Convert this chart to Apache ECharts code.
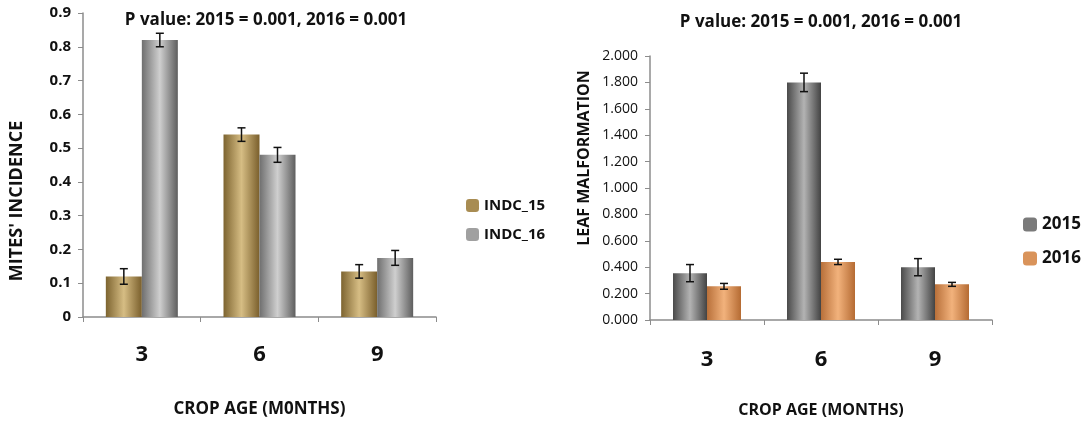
<!DOCTYPE html>
<html>
<head>
<meta charset="utf-8">
<script src="https://cdn.jsdelivr.net/npm/echarts@6/dist/echarts.min.js"></script>
<style>
  html, body { margin: 0; padding: 0; background: #fff; }
  #chart { width: 1084px; height: 423px; }
</style>
</head>
<body>
<div id="chart"></div>
<script>
// categories (crop age, months)
var ages = ['3', '6', '9']

// left panel: mites' incidence
var indc15 = [0.12, 0.54, 0.135]
var indc16 = [0.82, 0.48, 0.175]
var indc15Err = [0.023, 0.02, 0.02]
var indc16Err = [0.02, 0.022, 0.022]

// right panel: leaf malformation
var leaf2015 = [0.355, 1.80, 0.40]
var leaf2016 = [0.255, 0.44, 0.27]
var leaf2015Err = [0.065, 0.07, 0.065]
var leaf2016Err = [0.022, 0.02, 0.015]

var pTitle = 'P value: 2015 = 0.001, 2016 = 0.001'
var font = '"Open Sans", "Noto Sans", sans-serif'

function barGrad(c0, c1, c2) {
  return new echarts.graphic.LinearGradient(0, 0, 1, 0, [
    { offset: 0, color: c0 },
    { offset: 0.5, color: c1 },
    { offset: 1, color: c2 }
  ])
}

var tanColor = barGrad('#7d6430', '#d6bd84', '#7a5f2c')
var grayLight = barGrad('#6f6f6f', '#cfcfcf', '#5e5e5e')
var grayDark = barGrad('#4a4a4a', '#b3b3b3', '#434343')
var orangeColor = barGrad('#b8703a', '#f2b27c', '#b56b33')

// error bar series: offset = horizontal shift from category centre
function errSeries(xIdx, yIdx, vals, errs, offset) {
  return {
    type: 'custom',
    xAxisIndex: xIdx,
    yAxisIndex: yIdx,
    silent: true,
    z: 10,
    data: vals.map(function (v, i) { return [i, v - errs[i], v + errs[i]] }),
    renderItem: function (params, api) {
      var lo = api.coord([api.value(0), api.value(1)])
      var hi = api.coord([api.value(0), api.value(2)])
      var x = lo[0] + offset
      var cap = 4
      var style = { stroke: '#111', lineWidth: 1.5 }
      return {
        type: 'group',
        children: [
          { type: 'line', shape: { x1: x, y1: lo[1], x2: x, y2: hi[1] }, style: style },
          { type: 'line', shape: { x1: x - cap, y1: lo[1], x2: x + cap, y2: lo[1] }, style: style },
          { type: 'line', shape: { x1: x - cap, y1: hi[1], x2: x + cap, y2: hi[1] }, style: style }
        ]
      }
    }
  }
}

var chart = echarts.init(document.getElementById('chart'))

var axisLine = { show: true, lineStyle: { color: '#8c8c8c', width: 1.5 } }
var axisTick = { show: true, length: 5, lineStyle: { color: '#8c8c8c' } }

chart.setOption({
  animation: false,
  textStyle: { fontFamily: font },
  title: [
    {
      text: pTitle,
      left: 261,
      top: 7,
      textAlign: 'center',
      textStyle: { fontSize: 17, fontWeight: 'bold', color: '#111', fontFamily: font }
    },
    {
      text: pTitle,
      left: 816,
      top: 9,
      textAlign: 'center',
      textStyle: { fontSize: 17, fontWeight: 'bold', color: '#111', fontFamily: font }
    }
  ],
  legend: [
    {
      orient: 'vertical',
      left: 461,
      top: 193,
      itemWidth: 13,
      itemHeight: 13,
      itemGap: 14,
      textStyle: { fontSize: 15, fontWeight: 'bold', color: '#111', fontFamily: font },
      data: [
        { name: 'INDC_15', itemStyle: { color: '#a88c52' } },
        { name: 'INDC_16', itemStyle: { color: '#a0a0a0' } }
      ]
    },
    {
      orient: 'vertical',
      left: 1018,
      top: 211,
      itemWidth: 14,
      itemHeight: 14,
      itemGap: 17,
      textStyle: { fontSize: 17, fontWeight: 'bold', color: '#111', fontFamily: font },
      data: [
        { name: '2015', itemStyle: { color: '#7a7a7a' } },
        { name: '2016', itemStyle: { color: '#d9935a' } }
      ]
    }
  ],
  grid: [
    { left: 83, top: 13, width: 353, height: 311 },
    { left: 650, top: 56, width: 342, height: 272 }
  ],
  graphic: [
    {
      type: 'text',
      x: 17,
      y: 201,
      rotation: Math.PI / 2,
      style: {
        text: "MITES' INCIDENCE",
        fontSize: 18,
        fontWeight: 'bold',
        fontFamily: font,
        fill: '#111',
        align: 'center',
        verticalAlign: 'middle'
      }
    },
    {
      type: 'text',
      x: 584,
      y: 158,
      rotation: Math.PI / 2,
      style: {
        text: 'LEAF MALFORMATION',
        fontSize: 16,
        fontWeight: 'bold',
        fontFamily: font,
        fill: '#111',
        align: 'center',
        verticalAlign: 'middle'
      }
    }
  ],
  xAxis: [
    {
      type: 'category',
      gridIndex: 0,
      data: ages,
      axisLine: axisLine,
      axisTick: axisTick,
      axisLabel: { margin: 27, fontSize: 22, fontWeight: 'bold', color: '#111', fontFamily: font },
      name: 'CROP AGE (M0NTHS)',
      nameLocation: 'middle',
      nameGap: 84,
      nameTextStyle: { fontSize: 17, fontWeight: 'bold', color: '#111', fontFamily: font }
    },
    {
      type: 'category',
      gridIndex: 1,
      data: ages,
      axisLine: axisLine,
      axisTick: axisTick,
      axisLabel: { margin: 29, fontSize: 22, fontWeight: 'bold', color: '#111', fontFamily: font },
      name: 'CROP AGE (MONTHS)',
      nameLocation: 'middle',
      nameGap: 82,
      nameTextStyle: { fontSize: 16, fontWeight: 'bold', color: '#111', fontFamily: font }
    }
  ],
  yAxis: [
    {
      type: 'value',
      gridIndex: 0,
      min: 0,
      max: 0.9,
      interval: 0.1,
      splitLine: { show: false },
      axisLine: axisLine,
      axisTick: axisTick,
      axisLabel: {
        margin: 12,
        fontSize: 15,
        fontWeight: 'bold',
        color: '#111',
        fontFamily: font,
        formatter: function (v) { return v === 0 ? '0' : v.toFixed(1) }
      }
    },
    {
      type: 'value',
      gridIndex: 1,
      min: 0,
      max: 2,
      interval: 0.2,
      splitLine: { show: false },
      axisLine: axisLine,
      axisTick: axisTick,
      axisLabel: {
        margin: 12,
        fontSize: 14,
        color: '#111',
        fontFamily: font,
        formatter: function (v) { return v.toFixed(3) }
      }
    }
  ],
  series: [
    {
      name: 'INDC_15',
      type: 'bar',
      xAxisIndex: 0,
      yAxisIndex: 0,
      data: indc15,
      barWidth: 36,
      barGap: '0%',
      itemStyle: { color: tanColor }
    },
    {
      name: 'INDC_16',
      type: 'bar',
      xAxisIndex: 0,
      yAxisIndex: 0,
      data: indc16,
      barWidth: 36,
      barGap: '0%',
      itemStyle: { color: grayLight }
    },
    {
      name: '2015',
      type: 'bar',
      xAxisIndex: 1,
      yAxisIndex: 1,
      data: leaf2015,
      barWidth: 34,
      barGap: '0%',
      itemStyle: { color: grayDark }
    },
    {
      name: '2016',
      type: 'bar',
      xAxisIndex: 1,
      yAxisIndex: 1,
      data: leaf2016,
      barWidth: 34,
      barGap: '0%',
      itemStyle: { color: orangeColor }
    },
    errSeries(0, 0, indc15, indc15Err, -18),
    errSeries(0, 0, indc16, indc16Err, 18),
    errSeries(1, 1, leaf2015, leaf2015Err, -17),
    errSeries(1, 1, leaf2016, leaf2016Err, 17)
  ]
})
</script>
</body>
</html>
